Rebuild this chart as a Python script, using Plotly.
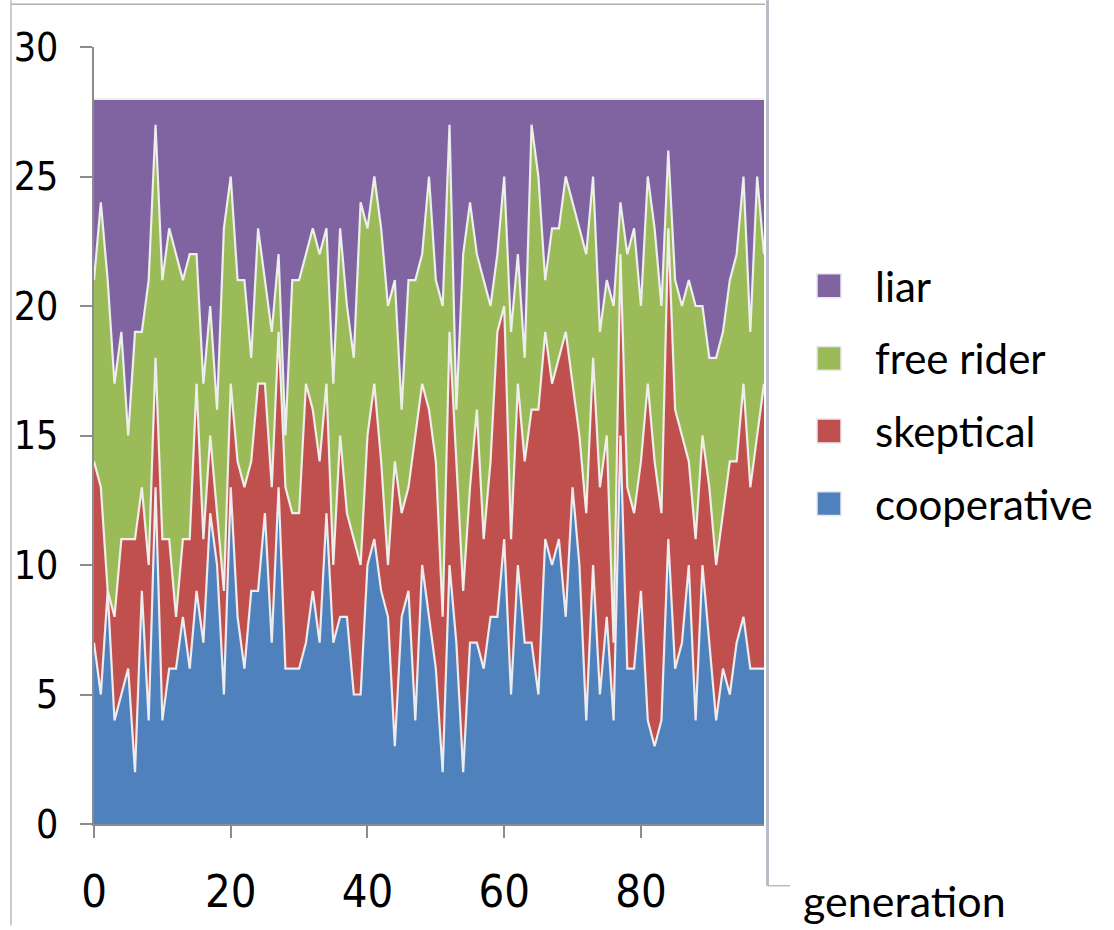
import plotly.graph_objects as go

generation = list(range(99))

cooperative = [7, 5, 9, 4, 5, 6, 2, 9, 4, 13, 4, 6, 6, 8, 6, 9, 7, 12, 10, 5,
               13, 8, 6, 9, 9, 12, 7, 13, 6, 6, 6, 7, 9, 7, 12, 7, 8, 8, 5, 5,
               10, 11, 9, 8, 3, 8, 9, 4, 10, 8, 6, 2, 10, 7, 2, 7, 7, 6, 8, 8,
               11, 5, 10, 7, 7, 5, 11, 10, 11, 8, 13, 10, 4, 10, 5, 8, 4, 15, 6, 6,
               9, 4, 3, 4, 11, 6, 7, 10, 4, 10, 7, 4, 6, 5, 7, 8, 6, 6, 6]

skeptical = [7, 8, 0, 4, 6, 5, 9, 4, 6, 5, 7, 5, 2, 3, 5, 8, 4, 3, 2, 4,
             4, 6, 7, 5, 8, 5, 6, 6, 7, 6, 6, 10, 7, 7, 5, 3, 7, 4, 6, 5,
             5, 6, 5, 2, 11, 4, 4, 11, 7, 8, 8, 6, 9, 7, 7, 6, 9, 5, 6, 11,
             9, 6, 7, 7, 9, 11, 8, 7, 7, 11, 4, 5, 8, 8, 8, 7, 3, 7, 7, 6,
             5, 13, 11, 8, 12, 10, 8, 4, 7, 5, 6, 6, 6, 9, 7, 9, 7, 9, 11]

free_rider = [7, 11, 12, 9, 8, 4, 8, 6, 11, 9, 10, 12, 14, 10, 11, 5, 6, 5, 4, 14,
              8, 7, 8, 4, 6, 4, 6, 3, 2, 9, 9, 5, 7, 8, 6, 7, 8, 8, 7, 14,
              8, 8, 9, 10, 7, 4, 8, 6, 5, 9, 7, 12, 8, 2, 13, 11, 6, 10, 6, 3,
              5, 8, 5, 4, 11, 9, 2, 6, 5, 6, 7, 8, 10, 7, 6, 6, 13, 2, 9, 11,
              6, 8, 9, 8, 3, 5, 5, 7, 9, 5, 5, 8, 7, 7, 8, 8, 6, 10, 5]

liar = [7, 4, 7, 11, 9, 13, 9, 9, 7, 1, 7, 5, 6, 7, 6, 6, 11, 8, 12, 5,
        3, 7, 7, 10, 5, 7, 9, 6, 13, 7, 7, 6, 5, 6, 5, 11, 5, 8, 10, 4,
        5, 3, 5, 8, 7, 12, 7, 7, 6, 3, 7, 8, 1, 12, 6, 4, 6, 7, 8, 6,
        3, 9, 6, 10, 1, 3, 7, 5, 5, 3, 4, 5, 6, 3, 9, 7, 8, 4, 6, 5,
        8, 3, 5, 8, 2, 7, 8, 7, 8, 8, 10, 10, 9, 7, 6, 3, 9, 3, 6]

series_names = ["cooperative", "skeptical", "free rider", "liar"]
series_values = [cooperative, skeptical, free_rider, liar]
series_colors = ["#4F81BD", "#C0504D", "#9BBB59", "#8064A2"]

y_ticks = [0, 5, 10, 15, 20, 25, 30]
x_ticks = [0, 20, 40, 60, 80]

fig = go.Figure()
for name, vals, col in zip(series_names, series_values, series_colors):
    fig.add_trace(go.Scatter(
        x=generation, y=vals, name=name, mode="lines",
        stackgroup="one", fillcolor=col,
        line=dict(color="rgba(242,242,242,0.95)", width=2.2),
        showlegend=False, hoverinfo="skip"))

W, H = 1114, 930
L, R, T, B = 94, 350, 47, 102
pw, ph = W - L - R, H - T - B


def px(x):
    return (x - L) / pw


def py(y):
    return (H - B - y) / ph


tick_font = dict(family="Liberation Sans Narrow, DejaVu Sans Condensed, Liberation Sans",
                 color="black")

fig.update_layout(
    width=W, height=H,
    margin=dict(l=L, r=R, t=T, b=B, pad=0),
    paper_bgcolor="white", plot_bgcolor="white",
    hovermode=False,
    xaxis=dict(range=[0, 98], tickmode="array", tickvals=x_ticks,
               ticktext=[str(v) for v in x_ticks],
               showgrid=False, zeroline=False, showline=True,
               linecolor="#8C8C8C", linewidth=1.5,
               ticks="outside", ticklen=12, tickcolor="#8C8C8C", tickwidth=1.5,
               tickfont=dict(size=45, **tick_font), ticklabelstandoff=15),
    yaxis=dict(range=[0, 30], tickmode="array", tickvals=y_ticks,
               ticktext=[str(v) for v in y_ticks],
               showgrid=True, gridcolor="#8C8C8C", gridwidth=1.5,
               zeroline=False, showline=True,
               linecolor="#8C8C8C", linewidth=1.5,
               ticks="outside", ticklen=12, tickcolor="#8C8C8C", tickwidth=1.5,
               tickfont=dict(size=39, **tick_font), ticklabelstandoff=14),
)

shapes = []
# frame artifacts of the original screenshot
shapes.append(dict(type="line", xref="paper", yref="paper",
                   x0=px(11), x1=px(11), y0=py(0), y1=py(930),
                   line=dict(color="#C8CCD6", width=2)))
shapes.append(dict(type="line", xref="paper", yref="paper",
                   x0=px(11), x1=px(765), y0=py(4), y1=py(4),
                   line=dict(color="#B0B0B0", width=1.5)))
shapes.append(dict(type="line", xref="paper", yref="paper",
                   x0=px(767.5), x1=px(767.5), y0=py(0), y1=py(890),
                   line=dict(color="#B8BCC8", width=3)))
shapes.append(dict(type="line", xref="paper", yref="paper",
                   x0=px(767.5), x1=px(790), y0=py(890), y1=py(890),
                   line=dict(color="#B8BCC8", width=1.5)))

legend_order = ["liar", "free rider", "skeptical", "cooperative"]
legend_y = [287, 360, 433, 506]
annotations = []
for name, ly in zip(legend_order, legend_y):
    col = series_colors[series_names.index(name)]
    shapes.append(dict(type="rect", xref="paper", yref="paper",
                       x0=px(817), x1=px(841), y0=py(ly - 12), y1=py(ly + 12),
                       fillcolor=col, line=dict(color="#E8E8EE", width=1.5)))
    annotations.append(dict(text=name, xref="paper", yref="paper",
                            x=px(873), y=py(ly), xanchor="left", yanchor="middle",
                            showarrow=False,
                            font=dict(family="Lato, Open Sans", size=42, color="black")))

annotations.append(dict(text="generation", xref="paper", yref="paper",
                        x=px(801), y=py(905), xanchor="left", yanchor="middle",
                        showarrow=False,
                        font=dict(family="Lato, Open Sans", size=43, color="black")))

fig.update_layout(shapes=shapes, annotations=annotations)

fig.write_html("out.html")
